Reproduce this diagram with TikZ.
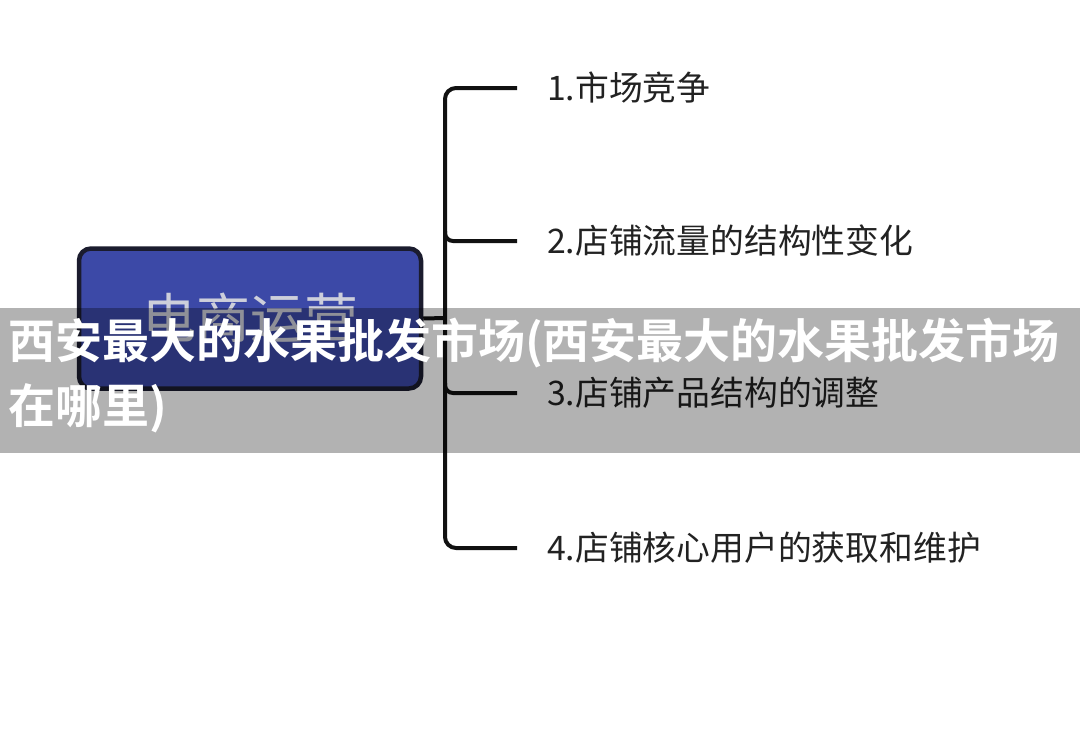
\documentclass[tikz,border=0pt]{standalone}
\usepackage{fontspec}
\newfontfamily\cjk{Noto Sans CJK SC}
\newfontfamily\cjkbold{Noto Sans CJK SC Bold}
\definecolor{boxblue}{HTML}{3C49A7}
\definecolor{boxedge}{HTML}{1B1C2E}
\definecolor{boxtext}{HTML}{CDCFDB}
\definecolor{linec}{HTML}{111111}
\definecolor{itemtext}{HTML}{222222}
\tikzset{
  rootbox/.style={draw=boxedge, line width=4.5pt, fill=boxblue, rounded corners=12pt,
    minimum width=342pt, minimum height=140pt, inner sep=0pt},
  roottext/.style={font=\cjk\fontsize{54}{60}\selectfont, text=boxtext, anchor=base, inner sep=0pt},
  itemnode/.style={font=\cjk\fontsize{33.8}{38}\selectfont, text=itemtext, anchor=base west, inner sep=0pt},
  branch/.style={draw=linec, line width=4pt},
  titletext/.style={font=\cjkbold\fontsize{47}{54}\selectfont, text=white, anchor=base west, inner sep=0pt},
}
\begin{document}
\begin{tikzpicture}[x=1pt,y=-1pt]
\useasboundingbox (0,0) rectangle (1080,731);
\fill[white] (0,0) rectangle (1080,731);
% root
\node[rootbox] (root) at (250,318.5) {};
\node[roottext] (roottxt) at (250,338.5) {电商运营};
% spine coordinates
\coordinate (s0) at (445,318);
\coordinate (s1) at (445,88);
\coordinate (s2) at (445,241);
\coordinate (s3) at (445,393);
\coordinate (s4) at (445,548);
\coordinate (e1) at (517,88);
\coordinate (e2) at (517,241);
\coordinate (e3) at (517,393);
\coordinate (e4) at (517,548);
% items
\node[itemnode] (i1) at (547,100.5) {1.市场竞争};
\node[itemnode] (i2) at (547,253.5) {2.店铺流量的结构性变化};
\node[itemnode] (i3) at (547,405.5) {3.店铺产品结构的调整};
\node[itemnode] (i4) at (547,560.5) {4.店铺核心用户的获取和维护};
% connectors
\draw[branch, rounded corners=11pt] (e1) -- (s1) -- (s4) -- (e4);
\draw[branch, rounded corners=8pt] (s2) ++(0,-10) |- (e2);
\draw[branch, rounded corners=8pt] (s3) ++(0,-10) |- (e3);
\draw[branch] (root.east) -- (s0);
% overlay band
\fill[black, opacity=0.3] (0,308) rectangle (1080,453);
\node[titletext] (t1) at (8,358) {西安最大的水果批发市场(西安最大的水果批发市场};
\node[titletext] (t2) at (8,423) {在哪里)};
\end{tikzpicture}
\end{document}
